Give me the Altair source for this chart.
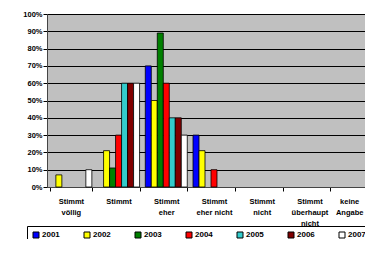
import altair as alt
import pandas as pd

categories = ["Stimmt|völlig", "Stimmt", "Stimmt|eher", "Stimmt|eher nicht",
              "Stimmt|nicht", "Stimmt|überhaupt|nicht", "keine|Angabe"]
years = ["2001", "2002", "2003", "2004", "2005", "2006", "2007"]
colors = ["#0000FF", "#FFFF00", "#008000", "#FF0000", "#33CCCC", "#800000", "#FFFFFF"]

v2001 = [0.00, 0.00, 0.70, 0.30, 0.00, 0.00, 0.00]
v2002 = [0.07, 0.21, 0.50, 0.21, 0.00, 0.00, 0.00]
v2003 = [0.00, 0.11, 0.89, 0.00, 0.00, 0.00, 0.00]
v2004 = [0.00, 0.30, 0.60, 0.10, 0.00, 0.00, 0.00]
v2005 = [0.00, 0.60, 0.40, 0.00, 0.00, 0.00, 0.00]
v2006 = [0.00, 0.60, 0.40, 0.00, 0.00, 0.00, 0.00]
v2007 = [0.10, 0.60, 0.30, 0.00, 0.00, 0.00, 0.00]
series = [v2001, v2002, v2003, v2004, v2005, v2006, v2007]

rows = []
for y, vals in zip(years, series):
    for c, v in zip(categories, vals):
        rows.append({"cat": c, "year": y, "value": v})
df = pd.DataFrame(rows)

FONT = "Liberation Sans"

chart = alt.Chart(df).transform_filter(
    alt.datum.value > 0
).mark_bar(stroke="black", strokeWidth=0.8).encode(
    x=alt.X("cat:N", sort=categories, title=None,
            scale=alt.Scale(domain=categories, range=[0, 334],
                            paddingInner=0.12, paddingOuter=0.06),
            axis=alt.Axis(tickBand="extent", labelAngle=0,
                          labelExpr="split(datum.label, '|')",
                          labelFont=FONT, labelFontSize=7.5, labelFontWeight="bold",
                          labelColor="black", labelPadding=10, labelLineHeight=11,
                          labelBaseline="middle",
                          labelOffset={"condition": {"test": "datum.value === 'keine|Angabe'", "value": -8},
                                       "value": 0},
                          tickColor="black", tickSize=4, domainColor="#444444",
                          grid=False)),
    xOffset=alt.XOffset("year:N", sort=years, scale=alt.Scale(domain=years, paddingInner=0, paddingOuter=0)),
    y=alt.Y("value:Q", title=None,
            scale=alt.Scale(domain=[0, 1], nice=False),
            axis=alt.Axis(values=[i / 10 for i in range(11)], format=".0%",
                          labelFont=FONT, labelFontSize=7.5, labelFontWeight="bold",
                          labelColor="black", labelPadding=1,
                          tickColor="black", tickSize=4, domainColor="#444444",
                          gridColor="black", gridWidth=1)),
    color=alt.Color("year:N", sort=years,
                    scale=alt.Scale(domain=years, range=colors),
                    legend=alt.Legend(title=None, orient="none", legendX=-20, legendY=212,
                                      direction="horizontal", columns=7,
                                      symbolType="square", symbolSize=36,
                                      symbolStrokeColor="black", symbolStrokeWidth=1,
                                      symbolOpacity=1,
                                      labelFont=FONT, labelFontSize=8, labelFontWeight="bold",
                                      labelColor="black", labelOffset=2,
                                      columnPadding=22, padding=5,
                                      strokeColor="black", fillColor="white")),
).properties(
    width=318, height=173,
    background="white",
    autosize=alt.AutoSizeParams(type="none"),
    padding={"left": 39, "top": 6, "right": 0, "bottom": 52},
).configure_view(
    fill="#C0C0C0", stroke=None
)

chart.save("out.html", embed_options={"renderer": "svg", "actions": False})
